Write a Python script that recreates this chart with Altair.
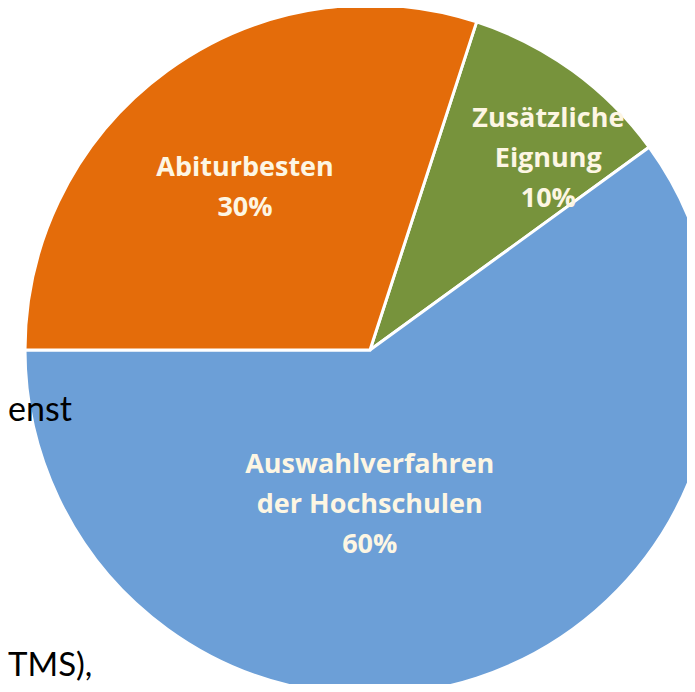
import math
import altair as alt
import pandas as pd

# Data (clockwise from the green slice)
categories = ["Zusätzliche Eignung", "Auswahlverfahren der Hochschulen", "Abiturbesten"]
label_lines = ["Zusätzliche\nEignung", "Auswahlverfahren\nder Hochschulen", "Abiturbesten"]
values = [10, 60, 30]
colors = ["#77933C", "#6C9FD7", "#E46C0A"]

df = pd.DataFrame({
    "idx": list(range(len(categories))),
    "cat": categories,
    "value": values,
    "label": [f"{l}\n{v}%" for l, v in zip(label_lines, values)],
})

start = math.radians(18)
theta_scale = alt.Scale(domain=[0, 100], range=[start, start + 2 * math.pi])
CX, CY = 362, 342

base = alt.Chart(df)

arcs = base.mark_arc(outerRadius=345, stroke="white", strokeWidth=3).encode(
    theta=alt.Theta("value:Q", stack=True, scale=theta_scale),
    color=alt.Color("cat:N", scale=alt.Scale(domain=categories, range=colors), legend=None),
    order=alt.Order("idx:Q"),
    x=alt.value(CX),
    y=alt.value(CY),
)

lab = base.transform_window(
    cum="sum(value)", sort=[alt.SortField("idx")]
).transform_calculate(mid="datum.cum - datum.value / 2")

label_pos = [(237, 39, -39), (161, -50, -38), (199, -8, -21)]
label_layers = []
for i, (r, dx, dy) in enumerate(label_pos):
    label_layers.append(
        lab.transform_filter(f"datum.idx == {i}").mark_text(
            radius=r, dx=dx, dy=dy, font="Open Sans", fontWeight="bold", fontSize=27,
            lineBreak="\n", lineHeight=40, color="#FDF6E3", align="center", baseline="middle",
        ).encode(
            theta=alt.Theta("mid:Q", stack=None, scale=theta_scale),
            text="label:N",
            x=alt.value(CX),
            y=alt.value(CY),
        )
    )

bg1 = alt.Chart(pd.DataFrame({"t": ["enst"]})).mark_text(
    font="Lato", fontSize=34, align="left", baseline="alphabetic", color="black"
).encode(text="t:N", x=alt.value(0), y=alt.value(413))
bg2 = alt.Chart(pd.DataFrame({"t": ["TMS),"]})).mark_text(
    font="Lato", fontSize=33, align="left", baseline="alphabetic", color="black"
).encode(text="t:N", x=alt.value(0), y=alt.value(668))

chart = alt.layer(arcs, *label_layers, bg1, bg2).properties(
    width=679, height=676, padding=0, autosize=alt.AutoSizeParams(type="none")
).configure_view(stroke=None)

chart.save("out.html", embed_options={"renderer": "svg", "actions": False})
